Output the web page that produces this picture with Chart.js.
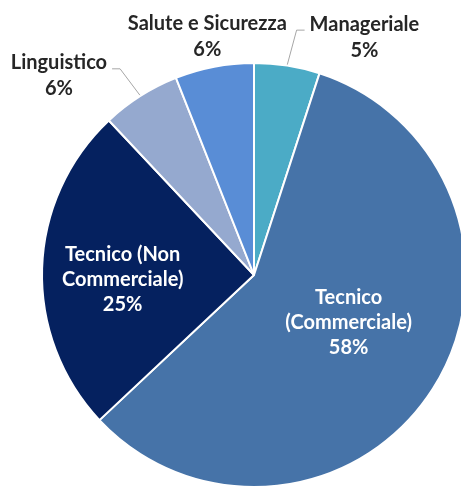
<!DOCTYPE html>
<html>
<head>
<meta charset="utf-8">
<script src="https://cdn.jsdelivr.net/npm/chart.js@4.4.0/dist/chart.umd.min.js"></script>
<style>
  html, body { margin: 0; padding: 0; background: #fff; overflow: hidden; }
  #wrap { position: absolute; left: 0; top: 0; width: 480px; height: 488px; }
</style>
</head>
<body>
<div id="wrap"><canvas id="pieChart" width="480" height="488"></canvas></div>
<script>
// chart data
const categories = ["Manageriale", "Tecnico (Commerciale)", "Tecnico (Non Commerciale)", "Linguistico", "Salute e Sicurezza"];
const percentValues = [5, 58, 25, 6, 6];
const labelLines = [["Manageriale"], ["Tecnico", "(Commerciale)"], ["Tecnico (Non", "Commerciale)"], ["Linguistico"], ["Salute e Sicurezza"]];
const sliceColors = ["#4babc6", "#4673a8", "#05215f", "#95a9cf", "#598dd6"];

// where each data label sits, relative to its slice (radius fraction, extra turn in degrees)
const labelPlacement = [
  { inside: false, radius: 1.237, turn: 15.9, leader: true },
  { inside: true, radius: 0.5, turn: -5.6, leader: false },
  { inside: true, radius: 0.62, turn: -4, leader: false },
  { inside: false, radius: 1.315, turn: -12, leader: true },
  { inside: false, radius: 1.144, turn: -0.3, leader: false },
];

const labelFont = "bold 20px Lato";

const pieLabels = {
  id: "pieLabels",
  afterDatasetsDraw(chart) {
    const ctx = chart.ctx;
    const meta = chart.getDatasetMeta(0);
    ctx.save();
    ctx.font = labelFont;
    ctx.textAlign = "center";
    ctx.textBaseline = "middle";
    meta.data.forEach((arc, i) => {
      const p = arc.getProps(["x", "y", "startAngle", "endAngle", "outerRadius"], true);
      const place = labelPlacement[i];
      const mid = (p.startAngle + p.endAngle) / 2;
      const ang = mid + (place.turn * Math.PI) / 180;
      const cx = p.x + Math.cos(ang) * p.outerRadius * place.radius;
      const cy = p.y + Math.sin(ang) * p.outerRadius * place.radius;
      const lines = labelLines[i].concat([percentValues[i] + "%"]);
      const lineHeight = place.inside ? 25 : 26;
      const top = cy - ((lines.length - 1) * lineHeight) / 2;
      ctx.fillStyle = place.inside ? "#ffffff" : "#262626";
      lines.forEach((line, k) => {
        ctx.fillText(line, cx, top + k * lineHeight);
      });
      if (place.leader) {
        const w = ctx.measureText(lines[0]).width;
        const sx = p.x + Math.cos(mid) * (p.outerRadius + 1);
        const sy = p.y + Math.sin(mid) * (p.outerRadius + 1);
        const rightSide = Math.cos(mid) > 0;
        const edge = rightSide ? cx - w / 2 : cx + w / 2;
        const dir = rightSide ? -1 : 1;
        const ly = top + 6;
        ctx.strokeStyle = "#a6a6a6";
        ctx.lineWidth = 1;
        ctx.beginPath();
        ctx.moveTo(sx, sy);
        ctx.lineTo(edge + dir * 13, ly);
        ctx.lineTo(edge + dir * 5, ly);
        ctx.stroke();
      }
    });
    ctx.restore();
  },
};

new Chart(document.getElementById("pieChart"), {
  type: "pie",
  data: {
    labels: categories,
    datasets: [
      {
        data: percentValues,
        backgroundColor: sliceColors,
        borderColor: "#ffffff",
        borderWidth: 2,
        hoverOffset: 0,
      },
    ],
  },
  options: {
    responsive: false,
    animation: false,
    devicePixelRatio: 1,
    layout: {
      padding: { top: 62, bottom: 0, left: 41, right: 13 },
    },
    plugins: {
      legend: { display: false },
      tooltip: { enabled: false },
    },
  },
  plugins: [pieLabels],
});
</script>
</body>
</html>
